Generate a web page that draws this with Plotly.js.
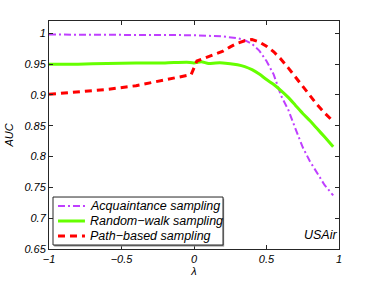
<!DOCTYPE html>
<html>
<head>
<meta charset="utf-8">
<script src="https://cdn.plot.ly/plotly-3.0.1.min.js"></script>
<style>html,body{margin:0;padding:0;background:#fff;}#chart{width:374px;height:281px;}</style>
</head>
<body>
<div id="chart"></div>
<script>
var seriesNames = ['Acquaintance sampling', 'Random\u2212walk sampling', 'Path\u2212based sampling'];
var seriesColors = ['#bf3fff', '#66ff00', '#ff0000'];

var acqX = [-1, -0.8, -0.6, -0.4, -0.2, 0, 0.1, 0.2, 0.3, 0.35, 0.4, 0.45, 0.5, 0.55, 0.6, 0.65, 0.7, 0.75, 0.8, 0.85, 0.9, 0.96];
var acqY = [0.998, 0.998, 0.998, 0.998, 0.998, 0.997, 0.996, 0.995, 0.992, 0.989, 0.983, 0.972, 0.955, 0.933, 0.899, 0.876, 0.845, 0.815, 0.792, 0.772, 0.754, 0.737];

var rwX = [-1, -0.8, -0.6, -0.4, -0.2, -0.05, 0, 0.05, 0.1, 0.15, 0.2, 0.3, 0.35, 0.4, 0.45, 0.5, 0.55, 0.6, 0.65, 0.7, 0.75, 0.8, 0.85, 0.9, 0.96];
var rwY = [0.950, 0.950, 0.951, 0.952, 0.952, 0.953, 0.952, 0.954, 0.951, 0.952, 0.952, 0.949, 0.946, 0.941, 0.934, 0.925, 0.917, 0.907, 0.896, 0.883, 0.870, 0.858, 0.845, 0.832, 0.816];

var pathX = [-1, -0.8, -0.6, -0.4, -0.2, -0.02, 0.02, 0.1, 0.15, 0.2, 0.25, 0.3, 0.35, 0.4, 0.45, 0.5, 0.55, 0.6, 0.65, 0.7, 0.75, 0.8, 0.85, 0.9, 0.96];
var pathY = [0.901, 0.905, 0.909, 0.915, 0.924, 0.933, 0.955, 0.962, 0.966, 0.971, 0.978, 0.984, 0.988, 0.990, 0.986, 0.979, 0.970, 0.958, 0.944, 0.929, 0.914, 0.898, 0.884, 0.871, 0.857];

var xTicks = [-1, -0.5, 0, 0.5, 1];
var xTickText = ['\u22121', '\u22120.5', '0', '0.5', '1'];
var yTicks = [0.65, 0.7, 0.75, 0.8, 0.85, 0.9, 0.95, 1];
var yTickText = ['0.65', '0.7', '0.75', '0.8', '0.85', '0.9', '0.95', '1'];
var panelLabel = 'USAir';

var fontItalic = {family: 'Liberation Sans, Arial, sans-serif', size: 11, color: '#000', style: 'italic'};
var fontLegend = {family: 'Liberation Sans, Arial, sans-serif', size: 12.5, color: '#000', style: 'italic'};
var lineStyles = [
  {width: 2, dash: '7px,3px,2px,3px'},
  {width: 3, dash: 'solid'},
  {width: 3, dash: '7px,5px'}
];

var traces = [
  {x: acqX, y: acqY, name: seriesNames[0], mode: 'lines', line: {color: seriesColors[0], width: lineStyles[0].width, dash: lineStyles[0].dash}},
  {x: rwX, y: rwY, name: seriesNames[1], mode: 'lines', line: {color: seriesColors[1], width: lineStyles[1].width, shape: 'spline', smoothing: 0.6}},
  {x: pathX, y: pathY, name: seriesNames[2], mode: 'lines', line: {color: seriesColors[2], width: lineStyles[2].width, dash: lineStyles[2].dash}}
];

var axisCommon = {
  showgrid: false, zeroline: false, showline: true, mirror: 'ticks',
  linecolor: '#262626', linewidth: 1, ticks: 'inside', ticklen: 4, tickcolor: '#262626',
  tickfont: fontItalic
};

// Hand-built legend (MATLAB-style compact box)
var legBox = {x0: 0.0138, x1: 0.60, y0: 0.0175, y1: 0.228};
var legRows = [0.1886, 0.1228, 0.057];
var shapes = [
  {type: 'rect', xref: 'paper', yref: 'paper', x0: legBox.x0 + 0.004, x1: legBox.x1 + 0.004, y0: legBox.y0 - 0.006, y1: legBox.y1 - 0.006,
   line: {width: 0}, fillcolor: '#8c8c8c', layer: 'above'},
  {type: 'rect', xref: 'paper', yref: 'paper', x0: legBox.x0, x1: legBox.x1, y0: legBox.y0, y1: legBox.y1,
   line: {color: '#262626', width: 1}, fillcolor: '#ffffff', layer: 'above'}
];
var annotations = [{
  xref: 'paper', yref: 'paper', x: 1, y: 0.02, xanchor: 'right', yanchor: 'bottom',
  text: panelLabel, showarrow: false, font: fontLegend
}];
for (var i = 0; i < seriesNames.length; i++) {
  shapes.push({type: 'line', xref: 'paper', yref: 'paper', x0: 0.031, x1: 0.124, y0: legRows[i], y1: legRows[i],
    line: {color: seriesColors[i], width: lineStyles[i].width, dash: lineStyles[i].dash}, layer: 'above'});
  annotations.push({xref: 'paper', yref: 'paper', x: 0.134, y: legRows[i], xanchor: 'left', yanchor: 'middle',
    text: seriesNames[i], showarrow: false, font: fontLegend});
}

var layout = {
  width: 374, height: 281,
  margin: {l: 49, r: 35, t: 21, b: 32},
  paper_bgcolor: '#fff', plot_bgcolor: '#fff',
  showlegend: false,
  xaxis: Object.assign({}, axisCommon, {
    range: [-1, 1], tickvals: xTicks, ticktext: xTickText,
    title: {text: '\u03bb', font: fontItalic, standoff: 2}
  }),
  yaxis: Object.assign({}, axisCommon, {
    range: [0.65, 1.02], tickvals: yTicks, ticktext: yTickText,
    title: {text: 'AUC', font: fontItalic, standoff: 8}
  }),
  shapes: shapes,
  annotations: annotations
};

Plotly.newPlot('chart', traces, layout, {staticPlot: true, displayModeBar: false});
</script>
</body>
</html>
